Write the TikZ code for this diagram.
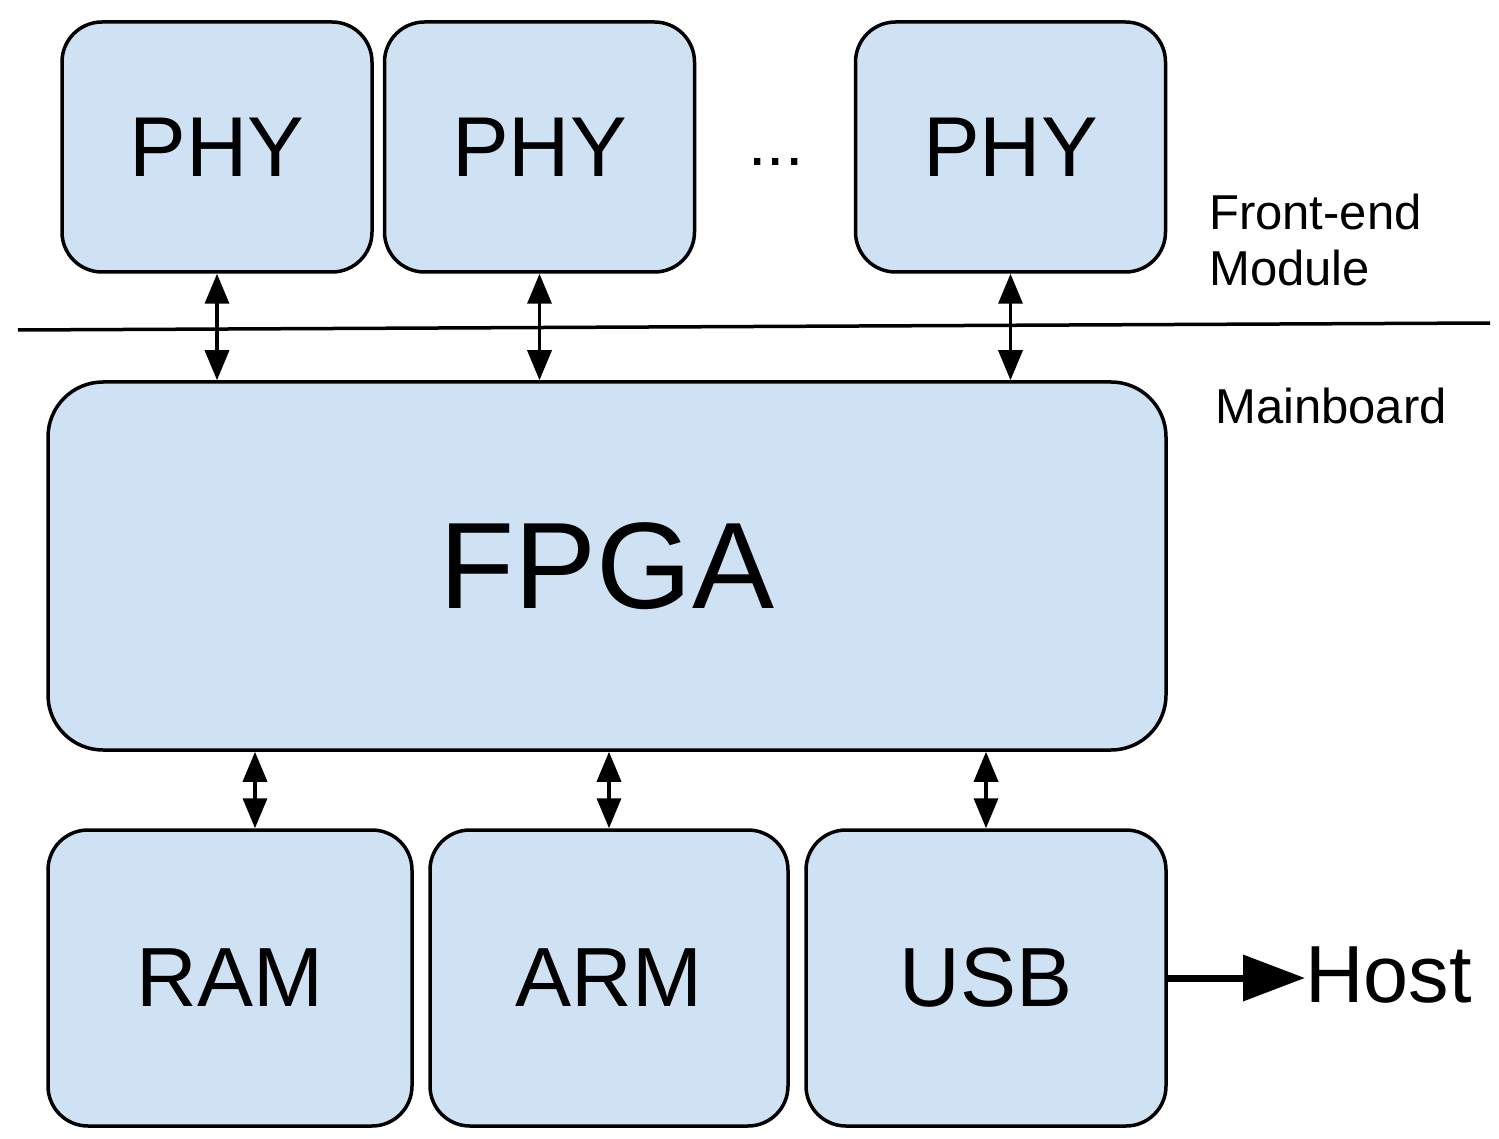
\documentclass[tikz,border=0pt]{standalone}
\usepackage{fontspec}
\setmainfont{Liberation Sans}
\usetikzlibrary{arrows.meta}
\definecolor{boxblue}{HTML}{CFE2F3}

\begin{document}
\begin{tikzpicture}[
    x=1pt, y=-1pt,
    block/.style={draw, line width=3.5pt, rounded corners=#1, fill=boxblue,
                  inner sep=0pt, align=center},
    phy/.style={block=40pt, minimum width=310pt, minimum height=250pt,
                font=\fontsize{85}{90}\selectfont},
    unit/.style={block=40pt, minimum height=296pt,
                 font=\fontsize{84}{90}\selectfont},
    side/.style={inner sep=0pt, align=left, font=\fontsize{49}{56}\selectfont},
    link/.style={{Triangle[length=30pt, width=24pt]}-{Triangle[length=30pt, width=24pt]},
                 line width=3.5pt},
    hostlink/.style={-{Triangle[length=62pt, width=45pt]}, line width=7pt}
]
\useasboundingbox (0,0) rectangle (1499,1139);

% Front-end module: PHY chips
\node[phy] (phy1) at (217,147) {PHY};
\node[phy] (phy2) at (539.5,147) {PHY};
\node[phy] (phy3) at (1010.5,147) {PHY};
\node[font=\fontsize{66}{70}\selectfont, inner sep=0pt] (dots) at (776,162) {...};

% Divider between the two boards
\coordinate (divl) at (18,330);
\coordinate (divr) at (1490,323);
\draw[line width=3.5pt] (divl) -- (divr);
\node[side, anchor=north west] (front) at (1209,194) {Front-end\\Module};
\node[side, anchor=base west] (board) at (1215,424) {Mainboard};

% Mainboard: FPGA
\node[block=55pt, minimum width=1118pt, minimum height=368pt,
      font=\fontsize{123}{130}\selectfont] (fpga) at (607,566) {FPGA};
\draw[link] (phy1.south) -- (phy1.south |- fpga.north);
\draw[link] (phy2.south) -- (phy2.south |- fpga.north);
\draw[link] (phy3.south) -- (phy3.south |- fpga.north);

% Peripherals
\node[unit, minimum width=364pt] (ram) at (230,978) {RAM};
\node[unit, minimum width=358pt] (arm) at (609,978) {ARM};
\node[unit, minimum width=360pt] (usb) at (986,978) {USB};
\draw[link] ([xshift=25pt]ram.north) -- ([xshift=25pt]ram.north |- fpga.south);
\draw[link] (arm.north) -- (arm.north |- fpga.south);
\draw[link] (usb.north) -- (usb.north |- fpga.south);

% Host link
\node[inner sep=0pt, anchor=base west, font=\fontsize{81}{84}\selectfont]
    (host) at (1305,1002) {Host};
\draw[hostlink] (usb.east) -- (usb.east -| host.west);

\end{tikzpicture}
\end{document}
